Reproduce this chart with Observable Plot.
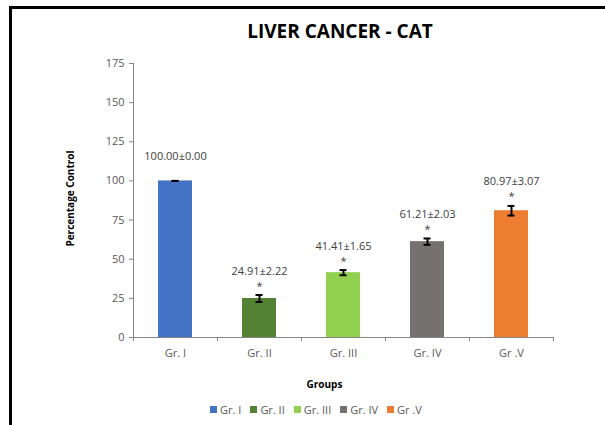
<!DOCTYPE html>
<html>
<head>
<meta charset="utf-8">
<script src="https://cdn.jsdelivr.net/npm/d3@7"></script>
<script src="https://cdn.jsdelivr.net/npm/@observablehq/plot@0.6"></script>
<style>
  body { margin: 0; background: #fff; }
  #wrap { position: relative; width: 605px; height: 425px; overflow: hidden; font-family: "Open Sans", sans-serif; }
  #frame { position: absolute; left: 9px; top: 6px; width: 700px; height: 500px; border-left: 3px solid #000; border-top: 3px solid #000; }
  #title { position: absolute; top: 18px; left: 240px; width: 200px; text-align: center; font-weight: bold; font-size: 19px; color: #000; white-space: nowrap; }
  #chart { position: absolute; top: 50px; left: 0; }
  #legend { position: absolute; top: 402px; left: 0; width: 632px; display: flex; justify-content: center; gap: 9px; font-size: 11px; color: #595959; }
  #legend span.item { display: flex; align-items: center; gap: 3px; }
  #legend span.sw { display: inline-block; width: 7px; height: 7px; }
</style>
</head>
<body>
<div id="wrap">
  <div id="frame"></div>
  <div id="title">LIVER CANCER - CAT</div>
  <div id="chart"></div>
  <div id="legend"></div>
</div>
<script>
const groups = ["Gr. I", "Gr. II", "Gr. III", "Gr. IV", "Gr .V"];
const means = [100.00, 24.91, 41.41, 61.21, 80.97];
const errors = [0.00, 2.22, 1.65, 2.03, 3.07];
const signif = ["", "*", "*", "*", "*"];
const colors = ["#4472C4", "#548235", "#92D050", "#767171", "#ED7D31"];
const yTicks = [0, 25, 50, 75, 100, 125, 150, 175];

const data = groups.map((g, i) => ({
  group: g, mean: means[i], err: errors[i], sig: signif[i],
  label: means[i].toFixed(2) + "±" + errors[i].toFixed(2)
}));
const last = [groups[groups.length - 1]];

const plot = Plot.plot({
  width: 605,
  height: 345,
  marginTop: 13,
  marginBottom: 58,
  marginLeft: 133,
  marginRight: 52,
  style: { fontFamily: "Open Sans, sans-serif", fontSize: "10px", color: "#595959", background: "transparent" },
  x: { domain: groups, paddingInner: 0.6, paddingOuter: 0.3 },
  y: { domain: [0, 175] },
  color: { domain: groups, range: colors },
  marks: [
    Plot.barY(data, { x: "group", y: "mean", fill: "group" }),
    Plot.ruleY([0], { stroke: "#868686", strokeWidth: 1 }),
    Plot.frame({ anchor: "left", stroke: "#868686" }),
    Plot.ruleX(groups, { x: d => d, y1: 0, y2: -2.6, dx: -42, stroke: "#868686" }),
    Plot.ruleX(last, { x: d => d, y1: 0, y2: -2.6, dx: 42, stroke: "#868686" }),
    Plot.axisY({ ticks: yTicks, tickSize: 4, tickPadding: 5, label: null, fontSize: 11, stroke: "#868686", fill: "#595959" }),
    Plot.axisX({ tickSize: 0, tickPadding: 12, label: null, fontSize: 11, fill: "#595959" }),
    Plot.ruleX(data, { x: "group", y1: d => d.mean - d.err, y2: d => d.mean + d.err, stroke: "#000", strokeWidth: 2 }),
    Plot.tickY(data, { x: "group", y: d => d.mean + d.err, inset: 13.5, stroke: "#000", strokeWidth: 2 }),
    Plot.tickY(data, { x: "group", y: d => d.mean - d.err, inset: 13.5, stroke: "#000", strokeWidth: 2 }),
    Plot.text(data, { x: "group", y: d => d.mean + d.err, text: "label", dy: -24, fontSize: 11, fill: "#404040" }),
    Plot.text(data, { x: "group", y: d => d.mean + d.err, text: "sig", dy: -9, fontSize: 11, fill: "#404040" }),
    Plot.text(["Percentage Control"], { frameAnchor: "left", textAnchor: "middle", dx: -63, dy: -2, rotate: -90, fontWeight: "bold", fontSize: 10, fill: "#000" }),
    Plot.text(["Groups"], { frameAnchor: "bottom", dy: 50, dx: -19, fontWeight: "bold", fontSize: 10, fill: "#000" })
  ]
});
document.getElementById("chart").appendChild(plot);

const legend = document.getElementById("legend");
groups.forEach((g, i) => {
  const item = document.createElement("span");
  item.className = "item";
  const sw = document.createElement("span");
  sw.className = "sw";
  sw.style.background = colors[i];
  const t = document.createElement("span");
  t.textContent = g;
  item.appendChild(sw);
  item.appendChild(t);
  legend.appendChild(item);
});
</script>
</body>
</html>
